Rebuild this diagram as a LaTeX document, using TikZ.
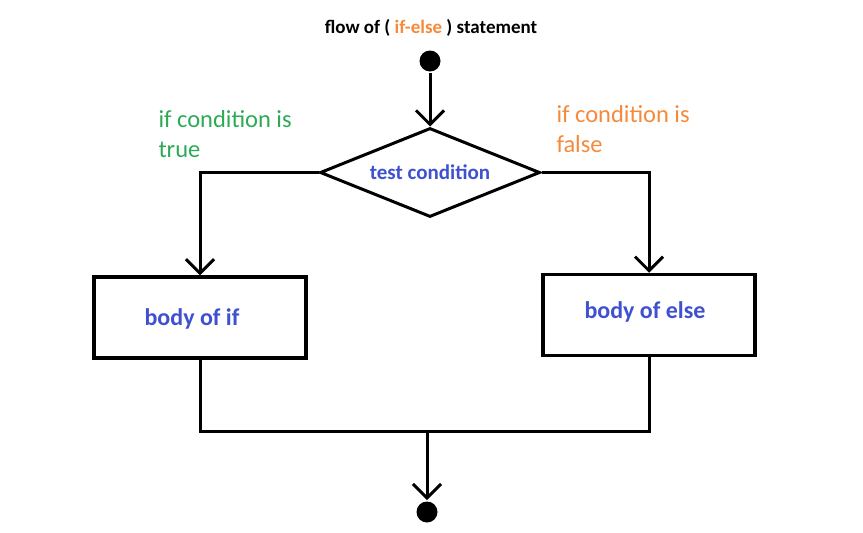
\documentclass[tikz,border=0pt]{standalone}
\usepackage{fontspec}
\setmainfont{Carlito}
\usetikzlibrary{arrows.meta,shapes.geometric}

\definecolor{txtblue}{RGB}{63,81,208}
\definecolor{txtgreen}{RGB}{46,170,87}
\definecolor{txtorange}{RGB}{245,138,59}

\begin{document}
\begin{tikzpicture}[x=1pt,y=-1pt,line width=3pt,
  flow/.style={-{Straight Barb[length=14pt,width=28pt,line width=3pt]}},
  dot/.style={circle,fill=black,minimum size=21pt,inner sep=0pt},
  decision/.style={draw,diamond,shape aspect=2.47,minimum width=220pt,minimum height=89pt,inner sep=0pt},
  box/.style={draw,line width=3.5pt,minimum width=212pt,minimum height=81pt,inner sep=0pt},
  lbl/.style={font=\bfseries\fontsize{24}{28}\selectfont,text=txtblue},
  cond/.style={font=\fontsize{24.5}{29.5}\selectfont,align=left,inner sep=0pt,anchor=base west}]

\useasboundingbox (0,0) rectangle (863,533);

\node[font=\bfseries\fontsize{19}{22}\selectfont] (title) at (431,28) {flow of ( \textcolor{txtorange}{if-else} ) statement};

\node[dot] (start) at (430,61) {};
\node[decision,font=\bfseries\fontsize{21}{24}\selectfont,text=txtblue] (test) at (430,172.5) {test condition};

\node[box] (ifbody) at (200,317.5) {};
\node[lbl] (iflbl) at (192,319) {body of if};
\node[box] (elsebody) at (649,315) {};
\node[lbl] (elselbl) at (645,312) {body of else};

\node[cond,text=txtgreen] (truelbl) at (157,157) {if condition is\\true};
\node[cond,text=txtorange] (falselbl) at (555,152) {if condition is\\false};

\coordinate (join) at (427,431);
\node[dot] (stop) at (427,512) {};

% arrows
\draw[flow] (start) -- (test.north);
\draw[flow] (test.west) -| (ifbody.north);
\draw[flow] (test.east) -| (elsebody.north);
\draw (ifbody.south) -- (ifbody.south |- join) -- (elsebody.south |- join) -- (elsebody.south);
\draw[flow] (join) -- (stop.north);

\end{tikzpicture}
\end{document}
